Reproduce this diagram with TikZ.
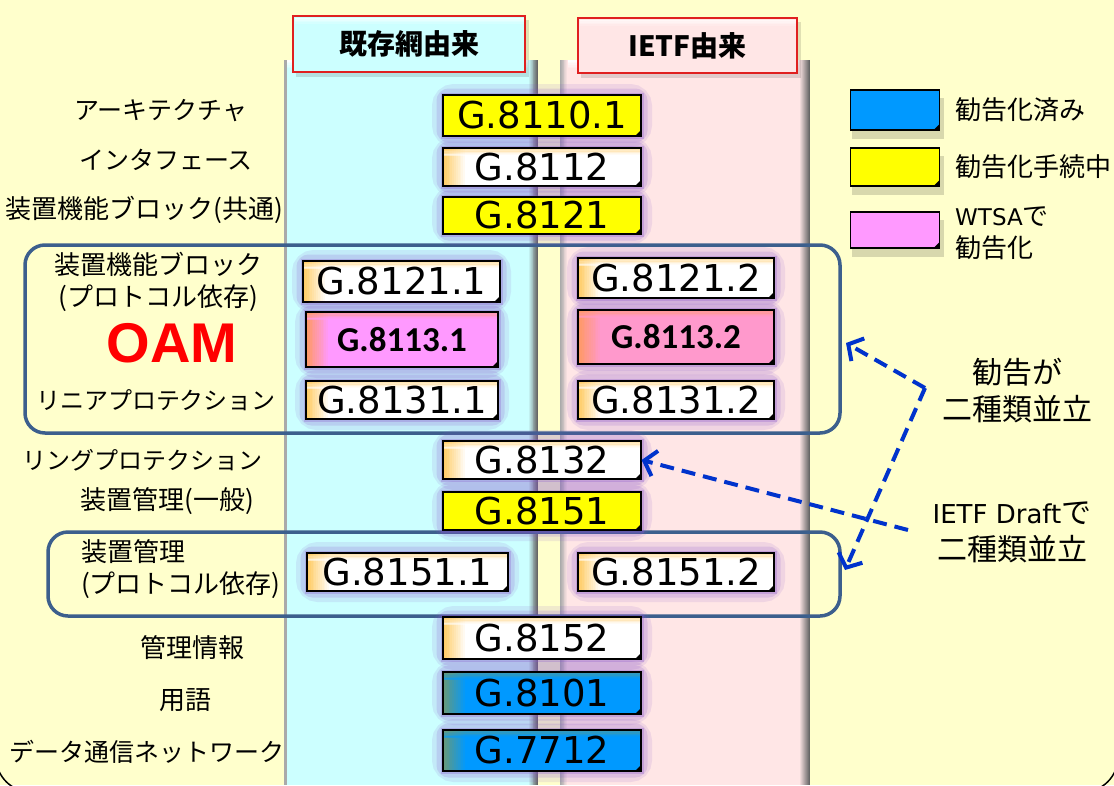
\documentclass[tikz,border=0pt]{standalone}
\usepackage{fontspec}
\setmainfont{Noto Sans CJK JP}
\newfontfamily\dv{DejaVu Sans}
\newfontfamily\cb{Carlito}
\newfontfamily\lib{Liberation Sans}
\usetikzlibrary{arrows.meta}
\definecolor{bgY}{HTML}{FFFFCC}
\definecolor{colCyan}{HTML}{CCFFFF}
\definecolor{colPink}{HTML}{FFE6E6}
\definecolor{hdrRed}{HTML}{E02020}
\definecolor{frameBlue}{HTML}{3C5F8D}
\definecolor{arrBlue}{HTML}{0033CC}
\definecolor{gYel}{HTML}{FFFF00}
\definecolor{gOr}{HTML}{FFCC66}
\definecolor{gBlue}{HTML}{0099FF}
\definecolor{gGreen}{HTML}{66997A}
\definecolor{gMag}{HTML}{FF99FF}
\definecolor{gPk}{HTML}{FF99CC}
\definecolor{gOr2}{HTML}{FF9966}
\definecolor{glowc}{HTML}{8855CC}
\definecolor{edgeDark}{HTML}{666666}
\definecolor{edgeMid}{HTML}{AAAAAA}
% horizontal gradient: x0 x1 y0 y1 colorLeft colorRight steps
\newcommand\hgrad[7]{\foreach \k [evaluate=\k as \pp using int(100*\k/#7)] in {0,...,#7}{%
  \fill[#6!\pp!#5] ({#1+(#2-#1)*\k/(#7+1)},#3) rectangle ({#1+(#2-#1)*(\k+1)/(#7+1)+0.4},#4);}}
% vertical gradient: x0 x1 y0 y1 colorTop colorBottom steps
\newcommand\vgrad[7]{\foreach \k [evaluate=\k as \pp using int(100*\k/#7)] in {0,...,#7}{%
  \fill[#6!\pp!#5] (#1,{#3+(#4-#3)*\k/(#7+1)}) rectangle (#2,{#3+(#4-#3)*(\k+1)/(#7+1)+0.4});}}
\tikzset{
 gfont/.style={font=\dv\fontsize{37}{40}\selectfont},
 bfont/.style={font=\cb\bfseries\fontsize{35}{40}\selectfont},
 gb/.style={draw=black, line width=1.2pt, inner sep=0pt},
 glow1/.style={draw=glowc, line width=22pt, opacity=.12, rounded corners=11pt},
 glow2/.style={draw=glowc, line width=13pt, opacity=.18, rounded corners=6pt},
 glow3/.style={draw=glowc, line width=5pt, opacity=.28},
 legbox/.style={draw=black, line width=1.2pt, inner sep=0pt},
 lab/.style={font=\fontsize{26}{32}\selectfont, inner sep=0pt, align=center},
 klab/.style={font=\fontsize{25}{32}\selectfont, inner sep=0pt, align=center},
 slab/.style={font=\fontsize{24}{32}\selectfont, inner sep=0pt, align=center},
 leglab/.style={font=\fontsize{26}{32}\selectfont, inner sep=0pt, anchor=west, align=left},
 rlab/.style={font=\fontsize{30}{37}\selectfont, inner sep=0pt, align=center},
 hdrframe/.style={draw=hdrRed, line width=2pt, inner sep=0pt},
 hdrtext/.style={font=\bfseries\fontsize{28}{32}\selectfont, inner sep=0pt},
 grp/.style={draw=frameBlue, line width=3.5pt, rounded corners=20pt},
 dasharrow/.style={draw=arrBlue, line width=4pt, dash pattern=on 14pt off 8pt,
   -{Straight Barb[length=11pt, width=26pt, line width=4pt]}},
}
% name x0 y0 x1 y1 fill edge fontstyle text
\newcommand\gbox[9]{%
 \draw[glow1] (#2,#3) rectangle (#4,#5);
 \draw[glow2] (#2,#3) rectangle (#4,#5);
 \draw[glow3] (#2,#3) rectangle (#4,#5);
 \fill[#6] (#2,#3) rectangle (#4,#5);
 \hgrad{#2}{#2+24}{#3}{#5}{#7}{#6}{12}
 \begin{scope}[opacity=.5]\vgrad{#2}{#4}{#3}{#3+8}{#7}{#6}{4}\end{scope}
 \node[gb, #8, minimum width={#4-#2}, minimum height={#5-#3}] (#1) at ({(#2+#4)/2},{(#3+#5)/2}) {#9};
 \fill[black] (#4-6,#5) -- (#4,#5-6) -- (#4,#5) -- cycle;}
\begin{document}
\begin{tikzpicture}[x=1pt,y=-1pt]
\useasboundingbox (0,0) rectangle (1114,785);
\fill[bgY] (0,0) rectangle (1114,785);
\draw[line width=1.5pt, rounded corners=35pt] (-4,-60) rectangle (1118,792);
% columns
\fill[colCyan] (285,60) rectangle (538,785);
\hgrad{528}{538}{60}{785}{colCyan}{edgeDark}{10}
\fill[edgeMid] (284,60) rectangle (286.5,785);
\vgrad{286.5}{528}{60}{70}{white}{colCyan}{5}
\fill[colPink] (560,60) rectangle (810,785);
\hgrad{560}{568}{60}{785}{edgeMid}{colPink}{8}
\hgrad{799}{810}{60}{785}{colPink}{edgeDark}{10}
\vgrad{568}{799}{60}{70}{white}{colPink}{5}
% headers
\fill[black, opacity=.12] (296,20) rectangle (529,77);
\fill[black, opacity=.12] (581,22) rectangle (801,78);
\node[hdrframe, fill=colCyan, minimum width=232pt, minimum height=56pt] (hb1) at (409,44) {};
\node[hdrframe, fill=colPink, minimum width=219pt, minimum height=55pt] (hb2) at (687.5,45.5) {};
\begin{scope}[opacity=.7]
\vgrad{294.5}{523.5}{17.5}{25}{white}{colCyan}{4}
\vgrad{579.5}{795.5}{19.5}{27}{white}{colPink}{4}
\end{scope}
\node[hdrtext] (h1) at (hb1) {既存網由来};
\node[hdrtext] (h2) at (hb2) {IETF由来};
% group frames
\draw[grp] (25,245) rectangle (840,433);
\draw[grp] (48,532) rectangle (840,616);
\coordinate (t1) at (846,343);
\coordinate (t2) at (845,570);
% boxes
\gbox{g81101}{443}{95}{641}{136}{gYel}{gYel}{gfont}{G.8110.1}
\gbox{g8112}{443}{148}{641}{186}{white}{gOr}{gfont}{G.8112}
\gbox{g8121}{443}{197}{641}{234}{gYel}{gYel}{gfont}{G.8121}
\gbox{g81211}{303}{261}{500}{302}{white}{gOr}{gfont}{G.8121.1}
\gbox{g81212}{578}{258}{774}{298}{white}{gOr}{gfont}{G.8121.2}
\gbox{g81131}{306}{312}{498}{367}{gMag}{gOr2}{bfont}{G.8113.1}
\gbox{g81132}{578}{310}{774}{364}{gPk}{gOr2}{bfont}{G.8113.2}
\gbox{g81311}{306}{381}{498}{419}{white}{gOr}{gfont}{G.8131.1}
\gbox{g81312}{578}{381}{774}{419}{white}{gOr}{gfont}{G.8131.2}
\gbox{g8132}{443}{441}{641}{479}{white}{gOr}{gfont}{G.8132}
\gbox{g8151}{443}{492}{641}{530}{gYel}{gYel}{gfont}{G.8151}
\gbox{g81511}{307}{553}{508}{591}{white}{gOr}{gfont}{G.8151.1}
\gbox{g81512}{578}{553}{774}{591}{white}{gOr}{gfont}{G.8151.2}
\gbox{g8152}{443}{617}{641}{659}{white}{gOr}{gfont}{G.8152}
\gbox{g8101}{443}{672}{641}{714}{gBlue}{gGreen}{gfont}{G.8101}
\gbox{g7712}{443}{730}{641}{771}{gBlue}{gGreen}{gfont}{G.7712}
% left labels
\node[klab] (l1) at (161,111) {アーキテクチャ};
\node[klab] (l2) at (166,160) {インタフェース};
\node[lab] (l3) at (144,210) {装置機能ブロック(共通)};
\node[lab] (l4) at (158,282) {装置機能ブロック\\(プロトコル依存)};
\node[font=\lib\bfseries\fontsize{56}{60}\selectfont, text=red, inner sep=0pt] (oam) at (172,343) {OAM};
\node[slab] (l5) at (156,400) {リニアプロテクション};
\node[slab] (l6) at (143,460) {リングプロテクション};
\node[lab] (l7) at (167,501) {装置管理(一般)};
\node[lab, align=left, anchor=west] (l8) at (81,569) {装置管理\\(プロトコル依存)};
\node[lab] (l9) at (192,648) {管理情報};
\node[lab] (l10) at (185,700) {用語};
\node[klab] (l11) at (147,752) {データ通信ネットワーク};
% legend
\foreach \n/\ya/\yb/\c in {lg1/90/130/gBlue, lg2/148/186/gYel, lg3/212/248/gMag}{
  \fill[black!60!bgY, opacity=.25] (852,\ya+8) rectangle (944,\yb+9);
  \node[legbox, fill=\c, minimum width=89pt, minimum height={\yb-\ya}] (\n) at (895,{(\ya+\yb)/2}) {};
  \fill[black] (939.5-6,\yb) -- (939.5,\yb-6) -- (939.5,\yb) -- cycle;
}
\node[leglab] (lt1) at (955,110) {勧告化済み};
\node[leglab] (lt2) at (955,167) {勧告化手続中};
\node[leglab] (lt3) at (955,233) {{\dv\fontsize{23}{32}\selectfont WTSA}で\\勧告化};
% right labels
\node[rlab] (r1) at (1017,391) {勧告が\\二種類並立};
\node[rlab] (r2) at (1012,532) {{\dv\fontsize{26}{37}\selectfont IETF Draft}で\\二種類並立};
% arrows
\coordinate (j) at (925,388);
\coordinate (s) at (908,530);
\draw[dasharrow] (j) -- (t1);
\draw[dasharrow] (j) -- (t2);
\draw[dasharrow] (s) -- (g8132.east);
\end{tikzpicture}
\end{document}
